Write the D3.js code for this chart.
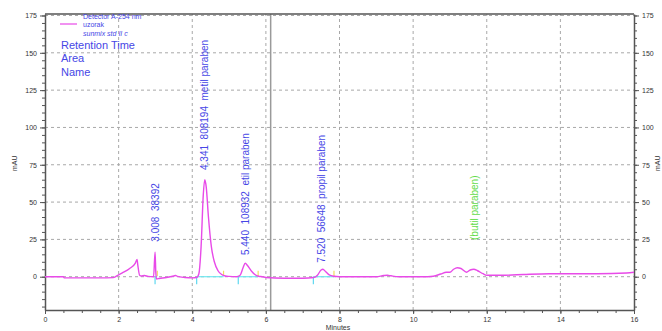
<!DOCTYPE html>
<html>
<head>
<meta charset="utf-8">
<script src="https://cdn.jsdelivr.net/npm/d3@7"></script>
<style>
  body { margin: 0; background: #fff; }
  svg text { font-family: "Liberation Sans", Arial, sans-serif; }
</style>
</head>
<body>
<div id="chart"></div>
<script>
// chromatogram trace, [minutes, mAU]
const traceTime = [0, 0.5, 0.52, 1.0, 1.5, 1.85, 1.95, 2.1, 2.3, 2.45, 2.5, 2.52, 2.57, 2.62, 2.7, 2.8, 2.95,
  2.99, 3.01, 3.03, 3.1, 3.3, 3.5, 3.55, 3.6, 3.8, 4.0, 4.12, 4.18, 4.24, 4.3, 4.34, 4.38, 4.44, 4.52,
  4.6, 4.7, 4.8, 4.9, 5.0, 5.2, 5.3, 5.38, 5.44, 5.5, 5.6, 5.7, 5.8, 5.9, 6.0, 6.5, 7.0, 7.3, 7.4, 7.5,
  7.55, 7.62, 7.72, 7.85, 8.0, 8.5, 9.0, 9.2, 9.3, 9.4, 9.6, 10.0, 10.4, 10.55, 10.75, 10.9, 11.0, 11.1,
  11.2, 11.3, 11.45, 11.55, 11.65, 11.75, 11.9, 12.0, 12.5, 13.0, 13.7, 14.0, 15.0, 15.8, 16.0];
const traceMAU = [0, 0, -0.8, -0.8, -0.8, -0.6, 0.5, 2.5, 5.5, 9, 11.5, 8, 1, 0.5, 0.8, 0.2, 0,
  16.5, 3, -1.5, -1.2, -0.5, 0.5, 0.8, 0.2, -0.5, -0.8, -0.5, 2, 20, 55, 65, 60, 40, 20,
  10, 4, 1.5, 0.5, 0.2, 0, 1, 6, 9, 7.5, 4, 1.5, 0.3, 0, -0.5, -1, -1, -0.5, 1, 4.5,
  5, 3.5, 1.2, 0.3, 0, 0, 0, 0.8, 1, 0.6, 0, 0, 0, 0.3, 1.8, 3, 3, 5,
  6, 5.5, 3, 4.5, 5, 4, 2, 1, 1, 1.5, 2, 2, 2, 2.5, 3];

// integrated peaks
const peakTimes = [3.008, 4.341, 5.440, 7.520];
const peakAreas = [38392, 808194, 108932, 56648];
const peakNames = ['', 'metil paraben', 'etil paraben', 'propil paraben'];
const peakStart = [2.99, 4.12, 5.25, 7.29];
const peakEnd = [3.05, 4.85, 5.79, 7.85];
const labelBase = [23.5, 71.5, 14.5, 9.3];

// expected but not found
const missingNames = ['(butil paraben)'];
const missingTimes = [11.68];
const missingBase = [24.6];

const legendLines = ['Detector A-254 nm', 'uzorak', 'sunmix std II c'];
const headerLines = ['Retention Time', 'Area', 'Name'];

const xTicks = [0, 2, 4, 6, 8, 10, 12, 14, 16];
const yTicks = [0, 25, 50, 75, 100, 125, 150, 175];
const markerTime = 6.13;

const width = 662, height = 331;
const margin = { top: 14, right: 28, bottom: 21, left: 45 };

const svg = d3.select('#chart').append('svg')
  .attr('width', width)
  .attr('height', height);

const x = d3.scaleLinear().domain([0, 16]).range([margin.left, width - margin.right]);
const y = d3.scaleLinear().domain([-22.3, 176]).range([height - margin.bottom, margin.top]);

const blue = '#4646e6';
const pink = '#e84ae8';

// grid
svg.append('g').selectAll('line').data(yTicks).join('line')
  .attr('x1', x(0)).attr('x2', x(16))
  .attr('y1', d => y(d)).attr('y2', d => y(d))
  .attr('stroke', '#a8a8a8').attr('stroke-dasharray', '3,3');
svg.append('g').selectAll('line').data(xTicks.slice(1, -1)).join('line')
  .attr('x1', d => x(d)).attr('x2', d => x(d))
  .attr('y1', y.range()[0]).attr('y2', y.range()[1])
  .attr('stroke', '#a8a8a8').attr('stroke-dasharray', '3,3');

// marker line
svg.append('line')
  .attr('x1', x(markerTime)).attr('x2', x(markerTime))
  .attr('y1', y.range()[0]).attr('y2', y.range()[1])
  .attr('stroke', '#9a9a9a').attr('stroke-width', 1.5);

// axes
const axisColor = '#555';
function styleAxis(g) {
  g.select('.domain').attr('stroke', axisColor).attr('stroke-width', 1.5);
  g.selectAll('.tick line').attr('stroke', axisColor);
  g.selectAll('.tick text').attr('fill', '#333').style('font-size', '7px');
}
const yMinor = d3.range(-20, 176, 5);
const xMinor = d3.range(0, 16.01, 0.5);

svg.append('g').attr('transform', `translate(${x(0)},0)`)
  .call(d3.axisLeft(y).tickValues(yMinor).tickSize(3).tickFormat(''))
  .call(g => g.select('.domain').remove())
  .selectAll('line').attr('stroke', axisColor);
svg.append('g').attr('transform', `translate(${x(0)},0)`)
  .call(d3.axisLeft(y).tickValues(yTicks).tickSize(5).tickSizeOuter(0).tickPadding(3))
  .call(styleAxis);

svg.append('g').attr('transform', `translate(${x(16)},0)`)
  .call(d3.axisRight(y).tickValues(yMinor).tickSize(3).tickFormat(''))
  .call(g => g.select('.domain').remove())
  .selectAll('line').attr('stroke', axisColor);
svg.append('g').attr('transform', `translate(${x(16)},0)`)
  .call(d3.axisRight(y).tickValues(yTicks).tickSize(5).tickSizeOuter(0).tickPadding(3))
  .call(styleAxis);

svg.append('g').attr('transform', `translate(0,${y(-22.3)})`)
  .call(d3.axisBottom(x).tickValues(xMinor).tickSize(3).tickFormat(''))
  .call(g => g.select('.domain').remove())
  .selectAll('line').attr('stroke', axisColor);
svg.append('g').attr('transform', `translate(0,${y(-22.3)})`)
  .call(d3.axisBottom(x).tickValues(xTicks).tickSize(4).tickSizeOuter(0).tickPadding(3))
  .call(styleAxis);

// top frame
svg.append('line')
  .attr('x1', x(0)).attr('x2', x(16))
  .attr('y1', y(176)).attr('y2', y(176))
  .attr('stroke', axisColor).attr('stroke-width', 1.5);

// axis titles
svg.append('text').text('mAU')
  .attr('transform', `translate(17,${y(76)}) rotate(-90)`)
  .attr('text-anchor', 'middle').style('font-size', '7px').attr('fill', '#333');
svg.append('text').text('mAU')
  .attr('transform', `translate(660,${y(76)}) rotate(-90)`)
  .attr('text-anchor', 'middle').style('font-size', '7px').attr('fill', '#333');
svg.append('text').text('Minutes')
  .attr('x', 338).attr('y', 330)
  .attr('text-anchor', 'middle').style('font-size', '7px').attr('fill', '#333');

// peak baselines
const zero = y(0);
peakStart.forEach((s, i) => {
  svg.append('line')
    .attr('x1', x(s)).attr('x2', x(peakEnd[i]))
    .attr('y1', zero).attr('y2', zero)
    .attr('stroke', '#6fe8f0').attr('stroke-width', 1.2);
  svg.append('line')
    .attr('x1', x(s)).attr('x2', x(s))
    .attr('y1', y(0)).attr('y2', y(-5))
    .attr('stroke', '#5fd8f0').attr('stroke-width', 1.2);
  svg.append('line')
    .attr('x1', x(peakEnd[i])).attr('x2', x(peakEnd[i]))
    .attr('y1', y(4)).attr('y2', y(0.5))
    .attr('stroke', '#f0dc60').attr('stroke-width', 1.2);
});

// trace
const trace = traceTime.map((t, i) => ({ t: t, v: traceMAU[i] }));
const line = d3.line()
  .x(d => x(d.t))
  .y(d => y(d.v))
  .curve(d3.curveMonotoneX);
svg.append('path')
  .datum(trace)
  .attr('fill', 'none')
  .attr('stroke', pink)
  .attr('stroke-width', 1.4)
  .attr('d', line);

// peak labels
peakTimes.forEach((t, i) => {
  const txt = t.toFixed(3) + '\u00a0\u00a0' + peakAreas[i] + (peakNames[i] ? '\u00a0\u00a0' + peakNames[i] : '');
  svg.append('text').text(txt)
    .attr('transform', `translate(${x(t) + 3.5},${y(labelBase[i])}) rotate(-90)`)
    .style('font-size', '10px')
    .attr('fill', blue);
});
missingNames.forEach((n, i) => {
  svg.append('text').text(n)
    .attr('transform', `translate(${x(missingTimes[i]) + 3.5},${y(missingBase[i])}) rotate(-90)`)
    .style('font-size', '10px')
    .attr('fill', '#62dc48');
});

// legend
svg.append('line')
  .attr('x1', 60).attr('x2', 77).attr('y1', 24).attr('y2', 24)
  .attr('stroke', pink).attr('stroke-width', 1.2);
legendLines.forEach((l, i) => {
  svg.append('text').text(l)
    .attr('x', 83).attr('y', 18.5 + i * 8.5)
    .style('font-size', '7px')
    .style('font-style', i === 2 ? 'italic' : 'normal')
    .attr('fill', blue);
});
headerLines.forEach((l, i) => {
  svg.append('text').text(l)
    .attr('x', 61).attr('y', 49 + i * 13.3)
    .style('font-size', '11px')
    .attr('fill', blue);
});
</script>
</body>
</html>
